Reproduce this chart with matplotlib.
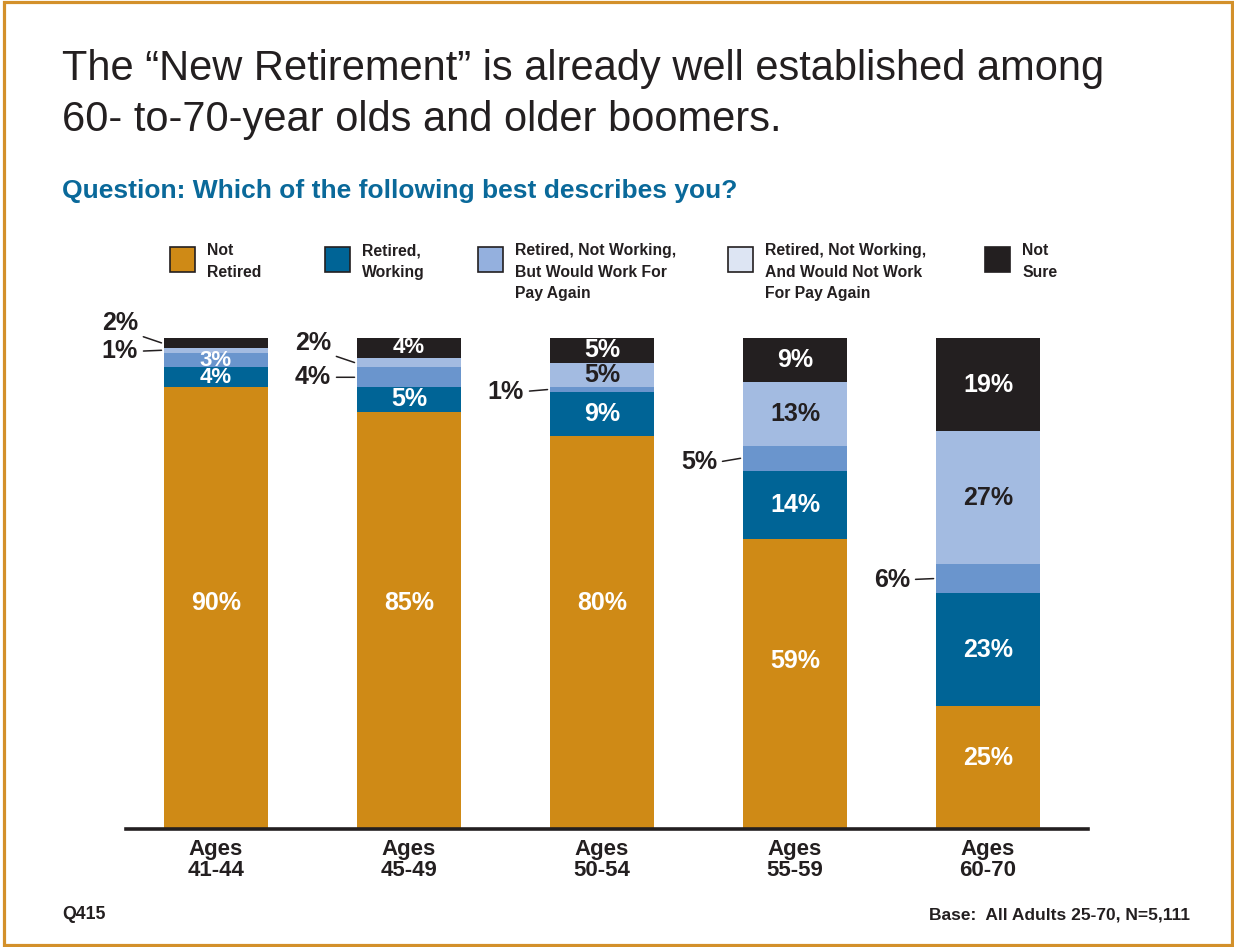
import matplotlib
matplotlib.use('Agg')
import matplotlib.pyplot as plt
from matplotlib import font_manager
from matplotlib.patches import Rectangle
import numpy as np

# survey answers by age group (percent of respondents)
groups = ['Ages\n41-44', 'Ages\n45-49', 'Ages\n50-54', 'Ages\n55-59', 'Ages\n60-70']
series = ['Not\nRetired', 'Retired,\nWorking',
          'Retired, Not Working,\nBut Would Work For\nPay Again',
          'Retired, Not Working,\nAnd Would Not Work\nFor Pay Again',
          'Not\nSure']
not_retired = [90, 85, 80, 59, 25]
retired_working = [4, 5, 9, 14, 23]
would_work = [3, 4, 1, 5, 6]
would_not_work = [1, 2, 5, 13, 27]
not_sure = [2, 4, 5, 9, 19]

stack = [not_retired, retired_working, would_work, would_not_work, not_sure]

bar_colors = ['#CF8A16', '#006496', '#6A95CD', '#A3BBE1', '#231F20']
legend_colors = ['#CF8A16', '#006496', '#94B0DE', '#DDE5F3', '#231F20']
text_colors = ['white', 'white', 'white', '#231F20', 'white']
dark = '#231F20'

# small segments labelled outside the bar: (group, series) -> rise of label in px
outside = {(0, 4): 20, (0, 3): -1, (1, 3): 20, (1, 2): 0,
           (2, 2): -2, (3, 2): -4, (4, 2): -1}

available = {f.name for f in font_manager.fontManager.ttflist}
narrow = 'Liberation Sans Narrow' if 'Liberation Sans Narrow' in available else 'Liberation Sans'
plt.rcParams['font.family'] = ['Liberation Sans', 'DejaVu Sans']

W, H = 1234, 947
fig = plt.figure(figsize=(W / 100, H / 100), dpi=100)


def fx(px):
    return px / W


def fy(py):
    return 1 - py / H


# orange frame
fig.add_artist(Rectangle((fx(4), fy(945)), fx(1232) - fx(4), fy(2) - fy(945),
                         transform=fig.transFigure, fill=False,
                         edgecolor='#D3902A', linewidth=2.3))

# headline
fig.text(fx(62), fy(80), 'The \u201cNew Retirement\u201d is already well established among',
         fontsize=30, color=dark, va='baseline')
fig.text(fx(62), fy(131), '60- to-70-year olds and older boomers.',
         fontsize=30, color=dark, va='baseline')
fig.text(fx(62), fy(198), 'Question: Which of the following best describes you?',
         fontsize=23.3 if narrow != 'Liberation Sans' else 19, family=narrow,
         fontweight='bold', color='#0A699A', va='baseline')

# legend
legend_x = [170, 325, 478, 728, 985]
for lx, name, col in zip(legend_x, series, legend_colors):
    fig.add_artist(Rectangle((fx(lx), fy(272)), fx(25), 25 / H,
                             transform=fig.transFigure, facecolor=col,
                             edgecolor=dark, linewidth=1.2))
    fig.text(fx(lx + 37), fy(243), name, fontsize=11.3, fontweight='bold',
             color=dark, va='top', ha='left', linespacing=1.55)

# bars
ax = fig.add_axes([fx(126), fy(829), fx(1088) - fx(126), fy(338) - fy(829)])
x = np.arange(len(groups))
width = 0.54
bottom = np.zeros(len(groups))
for j, (vals, col) in enumerate(zip(stack, bar_colors)):
    vals = np.array(vals, dtype=float)
    ax.bar(x, vals, width=width, bottom=bottom, color=col, linewidth=0, zorder=2)
    for i, v in enumerate(vals):
        mid = bottom[i] + v / 2
        label = f'{v:.0f}%'
        if (i, j) in outside:
            rise = outside[(i, j)] * 0.72
            ax.annotate(label, xy=(x[i] - width / 2 - 0.012, mid),
                        xytext=(-17, rise), textcoords='offset points',
                        ha='right', va='center', fontsize=18, fontweight='bold',
                        color=dark,
                        arrowprops=dict(arrowstyle='-', color=dark, lw=1.1,
                                        shrinkA=2, shrinkB=0,
                                        relpos=(1, 0) if rise > 5 else (1, 0.5)))
        else:
            ypos = min(v * 0.58, 46) if j == 0 else mid
            size = 16 if v < 5 else 18
            ax.text(x[i], ypos, label, ha='center', va='center', fontsize=size,
                    fontweight='bold', color=text_colors[j], zorder=3)
    bottom += vals

ax.set_xlim(-0.466, 4.518)
ax.set_ylim(0, 100)
ax.set_xticks(x)
ax.set_xticklabels(groups, fontsize=16, fontweight='bold', color=dark, linespacing=1.0)
ax.tick_params(axis='x', length=0, pad=7)
ax.set_yticks([])
for side in ['top', 'left', 'right']:
    ax.spines[side].set_visible(False)
ax.spines['bottom'].set_linewidth(2.6)
ax.spines['bottom'].set_color(dark)
ax.spines['bottom'].set_zorder(3)
ax.patch.set_visible(False)

# footnotes
fig.text(fx(62), fy(919), 'Q415', fontsize=12.8, fontweight='bold', color=dark, va='baseline')
fig.text(fx(1190), fy(919), 'Base:  All Adults 25-70, N=5,111', fontsize=12.5,
         fontweight='bold', color=dark, va='baseline', ha='right')

fig.savefig('out.png', dpi=100)
